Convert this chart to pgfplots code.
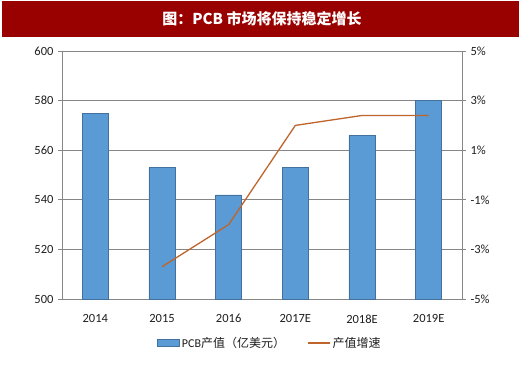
\documentclass[border=0pt]{standalone}
\usepackage{pgfplots}
\pgfplotsset{compat=1.18}
\usepackage{fontspec}
\setmainfont{Carlito}
\newfontfamily\cjk{Noto Sans CJK SC}
\definecolor{barblue}{RGB}{91,155,213}
\definecolor{baredge}{RGB}{65,113,156}
\definecolor{linebrown}{RGB}{190,100,45}
\definecolor{titlered}{RGB}{153,0,0}
\definecolor{gridgray}{RGB}{134,134,134}
\definecolor{textgray}{RGB}{30,30,30}
\begin{document}
\begin{tikzpicture}
\path[use as bounding box] (0pt,0pt) rectangle (520pt,365pt);
\fill[titlered] (2pt,328pt) rectangle (519pt,364pt);
\node[white,font=\cjk\bfseries\fontsize{15}{17}\selectfont] at (262pt,346pt) {图：PCB 市场将保持稳定增长};
\begin{axis}[
  at={(62pt,66pt)}, anchor=south west,
  width=400pt, height=248pt, scale only axis,
  xmin=-0.5, xmax=5.5, ymin=500, ymax=600,
  ytick={500,520,...,600},
  xtick={0,1,2,3,4,5},
  xticklabels={2014,2015,2016,2017E,2018E,2019E},
  extra x ticks={-0.5,0.5,1.5,2.5,3.5,4.5,5.5},
  extra x tick labels={},
  extra x tick style={major tick length=4pt, tick style={gridgray, line width=0.8pt}, grid=none},
  x tick style={draw=none},
  ymajorgrids, grid style={gridgray, line width=0.8pt},
  axis line style={gridgray, line width=0.8pt},
  y tick style={gridgray, line width=0.8pt},
  tick align=outside, major tick length=4pt,
  axis y line*=left, axis x line*=bottom,
  /pgf/number format/assume math mode=true,
  ticklabel style={font=\fontsize{12.5}{14}\selectfont, text=textgray},
  xticklabel style={yshift=-8pt},
  yticklabel style={xshift=-1pt},
]
\addplot[ybar, bar width=26pt, fill=barblue, draw=baredge, line width=0.6pt]
  coordinates {(0,575) (1,553) (2,542) (3,553) (4,566) (5,580)};
\end{axis}
\begin{axis}[
  at={(62pt,66pt)}, anchor=south west,
  width=400pt, height=248pt, scale only axis,
  xmin=-0.5, xmax=5.5, ymin=-5, ymax=5,
  axis y line*=right, axis x line=none,
  ytick={-5,-3,-1,1,3,5},
  yticklabels={-5\%,-3\%,-1\%,1\%,3\%,5\%},
  axis line style={gridgray, line width=0.8pt},
  y tick style={gridgray, line width=0.8pt},
  tick align=outside, major tick length=4pt,
  ticklabel style={font=\fontsize{12.5}{14}\selectfont, text=textgray},
  yticklabel style={xshift=1pt},
  legend style={at={(0.52,-0.177)}, anchor=center, draw=none,
    legend columns=2, font=\cjk\fontsize{12}{14}\selectfont, text=textgray,
    /tikz/every even column/.append style={column sep=20pt}},
]
\addlegendimage{legend image code/.code={\draw[fill=barblue,draw=baredge,line width=0.5pt] (0pt,-3.5pt) rectangle (22pt,3.5pt);}}
\addlegendentry{\fontspec{Carlito}PCB\cjk 产值（亿美元）}
\addlegendimage{legend image code/.code={\draw[linebrown,line width=1.5pt] (0pt,0pt) -- (22pt,0pt);}}
\addlegendentry{产值增速}
\addplot[linebrown, line width=1.3pt, mark=none, forget plot]
  coordinates {(1,-3.7) (2,-2.0) (3,2.0) (4,2.4) (5,2.4)};
\end{axis}
\end{tikzpicture}
\end{document}
